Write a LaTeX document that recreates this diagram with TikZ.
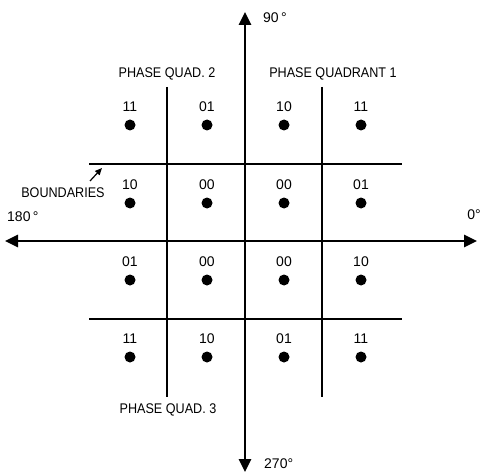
\documentclass[tikz,border=0pt]{standalone}
\usepackage{fontspec}
\setmainfont{Liberation Sans}
\usetikzlibrary{arrows.meta}
\newcommand\cnd[1]{\scalebox{0.9}[1]{#1}}
\begin{document}
\begin{tikzpicture}[x=1pt,y=-1pt,
  axis/.style={line width=2.6pt,-{Triangle[length=13pt,width=12pt]}},
  bound/.style={line width=2.6pt},
  pt/.style={circle,fill=black,inner sep=0pt,minimum size=11pt},
  lbl/.style={inner sep=0pt,font=\fontsize{14}{16}\selectfont},
  ttl/.style={inner sep=0pt,font=\fontsize{14}{16}\selectfont}]
\useasboundingbox (0,0) rectangle (482,476);
% axes
\coordinate (N) at (245,12);
\coordinate (S) at (245,472);
\coordinate (W) at (5,241);
\coordinate (E) at (477,241);
\coordinate (C) at (245,241);
\draw[axis] (C) -- (N);
\draw[axis] (C) -- (S);
\draw[axis] (C) -- (W);
\draw[axis] (C) -- (E);
% boundaries
\coordinate (h1a) at (89,164); \coordinate (h1b) at (402,164);
\coordinate (h2a) at (89,319); \coordinate (h2b) at (402,319);
\coordinate (v1a) at (167,87); \coordinate (v1b) at (167,397);
\coordinate (v2a) at (322,87); \coordinate (v2b) at (322,397);
\draw[bound] (h1a) -- (h1b);
\draw[bound] (h2a) -- (h2b);
\draw[bound] (v1a) -- (v1b);
\draw[bound] (v2a) -- (v2b);
% points
\foreach \r/\y in {1/125,2/203,3/280,4/357}{
  \foreach \c/\x in {1/130,2/207,3/284,4/361}{
    \node[pt] (p\r\c) at (\x,\y) {};
  }
}
\node[lbl] (l11) at (130,107) {11};
\node[lbl] (l12) at (207,107) {01};
\node[lbl] (l13) at (284,107) {10};
\node[lbl] (l14) at (361,107) {11};
\node[lbl] (l21) at (130,185) {10};
\node[lbl] (l22) at (207,185) {00};
\node[lbl] (l23) at (284,185) {00};
\node[lbl] (l24) at (361,185) {01};
\node[lbl] (l31) at (130,262) {01};
\node[lbl] (l32) at (207,262) {00};
\node[lbl] (l33) at (284,262) {00};
\node[lbl] (l34) at (361,262) {10};
\node[lbl] (l41) at (130,339) {11};
\node[lbl] (l42) at (207,339) {10};
\node[lbl] (l43) at (284,339) {01};
\node[lbl] (l44) at (361,339) {11};
% titles
\node[ttl] (q2) at (167,74) {\cnd{PHASE QUAD. 2}};
\node[ttl] (q1) at (333,74) {\cnd{PHASE QUADRANT 1}};
\node[ttl] (q3) at (168,410) {\cnd{PHASE QUAD. 3}};
\node[ttl] (bd) at (63,193) {\cnd{BOUNDARIES}};
\node[ttl,anchor=west] (d90) at (263,18) {90\,°};
\node[ttl,anchor=west] (d270) at (264,464) {270°};
\node[ttl,anchor=west] (d180) at (7,217) {180\,°};
\node[ttl,anchor=east] (d0) at (481,215) {0°};
% boundaries pointer
\coordinate (ptip) at (102,168);
\coordinate (ptail) at (90,181);
\draw[line width=1.2pt,-{Triangle[length=7pt,width=6pt]}] (ptail) -- (ptip);
\end{tikzpicture}
\end{document}
